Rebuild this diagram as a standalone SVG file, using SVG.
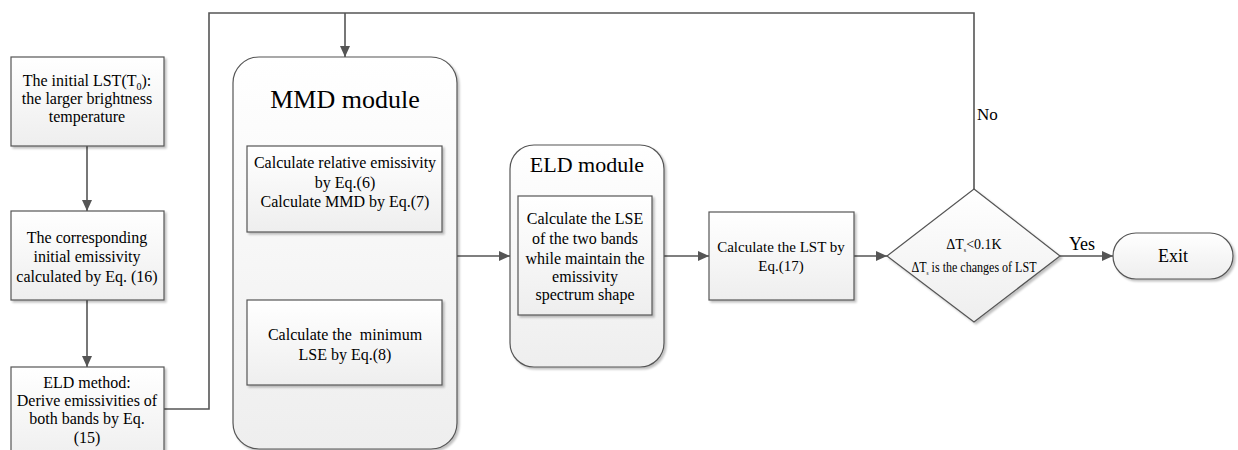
<svg xmlns="http://www.w3.org/2000/svg" width="1238" height="450" viewBox="0 0 1238 450" font-family="'Liberation Serif', serif">
<defs>
<linearGradient id="g" x1="0" y1="0" x2="0" y2="1">
<stop offset="0" stop-color="#ffffff"/>
<stop offset="1" stop-color="#eeeeee"/>
</linearGradient>
<filter id="sh" x="-10%" y="-10%" width="130%" height="130%">
<feGaussianBlur in="SourceAlpha" stdDeviation="1.2"/>
<feOffset dx="2" dy="2" result="b"/>
<feComponentTransfer><feFuncA type="linear" slope="0.25"/></feComponentTransfer>
<feMerge><feMergeNode/><feMergeNode in="SourceGraphic"/></feMerge>
</filter>
<marker id="ah" markerWidth="12" markerHeight="10" refX="11" refY="5" orient="auto" markerUnits="userSpaceOnUse">
<path d="M0,0 L11,5 L0,10 Z" fill="#555"/>
</marker>
</defs>
<style>
.box{fill:url(#g);stroke:#555;stroke-width:1.2;filter:url(#sh)}
.t{font-family:'Liberation Serif',serif;font-size:16px;fill:#000;text-anchor:middle}
.ttl{font-family:'Liberation Serif',serif;fill:#000;text-anchor:middle}
.c{fill:none;stroke:#555;stroke-width:1.6}
</style>
<g id="connectors">
<path class="c" d="M87,146 L87,211" marker-end="url(#ah)"/>
<path class="c" d="M87,300 L87,367" marker-end="url(#ah)"/>
<path class="c" d="M164,409 L209,409 L209,13 L974,13 L974,189"/>
<path class="c" d="M345,13 L345,57" marker-end="url(#ah)"/>
<path class="c" d="M345,232 L345,300" marker-end="url(#ah)"/>
<path class="c" d="M457,256 L510,256" marker-end="url(#ah)"/>
<path class="c" d="M664,256 L709,256" marker-end="url(#ah)"/>
<path class="c" d="M854,256 L887,256" marker-end="url(#ah)"/>
<path class="c" d="M1060,256 L1113,256" marker-end="url(#ah)"/>
<text class="ttl" x="977" y="120" font-size="17" style="text-anchor:start">No</text>
<text class="ttl" x="1082" y="250" font-size="18">Yes</text>
</g>
<g id="n1">
<rect class="box" x="11" y="57" width="153" height="89"/>
<text class="t" x="87" y="86">The initial LST(T<tspan font-size="10" dy="4">0</tspan><tspan dy="-4">):</tspan></text>
<text class="t" x="87" y="104">the larger brightness</text>
<text class="t" x="87" y="122">temperature</text>
</g>
<g id="n2">
<rect class="box" x="11" y="211" width="153" height="89"/>
<text class="t" x="87" y="243">The corresponding</text>
<text class="t" x="87" y="262">initial emissivity</text>
<text class="t" x="87" y="282">calculated by Eq. (16)</text>
</g>
<g id="n3">
<rect class="box" x="11" y="367" width="153" height="95"/>
<text class="t" x="87" y="388">ELD method:</text>
<text class="t" x="87" y="406">Derive emissivities of</text>
<text class="t" x="87" y="424">both bands by Eq.</text>
<text class="t" x="87" y="443">(15)</text>
</g>
<g id="mmd">
<rect class="box" x="233" y="57" width="224" height="392" rx="26" ry="26"/>
<text class="ttl" x="345" y="108" font-size="26">MMD module</text>
</g>
<g id="mmd1">
<rect class="box" x="247" y="146" width="195" height="86"/>
<text class="t" x="345" y="168">Calculate relative emissivity</text>
<text class="t" x="345" y="188">by Eq.(6)</text>
<text class="t" x="345" y="207">Calculate MMD by Eq.(7)</text>
</g>
<g id="mmd2">
<rect class="box" x="247" y="300" width="195" height="85"/>
<text class="t" x="345" y="340" xml:space="preserve">Calculate the  minimum</text>
<text class="t" x="345" y="360">LSE by Eq.(8)</text>
</g>
<g id="eld">
<rect class="box" x="510" y="145" width="154" height="222" rx="24" ry="24"/>
<text class="ttl" x="587" y="172" font-size="22">ELD module</text>
</g>
<g id="eld1">
<rect class="box" x="518" y="196" width="134" height="119"/>
<text class="t" x="585" y="224">Calculate the LSE</text>
<text class="t" x="585" y="244">of the two bands</text>
<text class="t" x="585" y="264">while maintain the</text>
<text class="t" x="585" y="282">emissivity</text>
<text class="t" x="585" y="300">spectrum shape</text>
</g>
<g id="lst">
<rect class="box" x="709" y="212" width="145" height="88"/>
<text class="t" x="781" y="252" style="font-size:15px">Calculate the LST by</text>
<text class="t" x="781" y="271" style="font-size:15px">Eq.(17)</text>
</g>
<g id="dec">
<polygon class="box" points="974,189 1060,256 974,322 887,256"/>
<text class="t" x="974" y="249" style="font-size:14px">ΔT<tspan font-size="6" dy="3">s</tspan><tspan dy="-3">&lt;0.1K</tspan></text>
<text class="t" x="974" y="272" style="font-size:14px" textLength="125" lengthAdjust="spacingAndGlyphs">ΔT<tspan font-size="6" dy="3">s</tspan><tspan dy="-3"> is the changes of LST</tspan></text>
</g>
<g id="exit">
<rect class="box" x="1113" y="233" width="120" height="46" rx="23" ry="23"/>
<text class="ttl" x="1173" y="262" font-size="18">Exit</text>
</g>
</svg>
